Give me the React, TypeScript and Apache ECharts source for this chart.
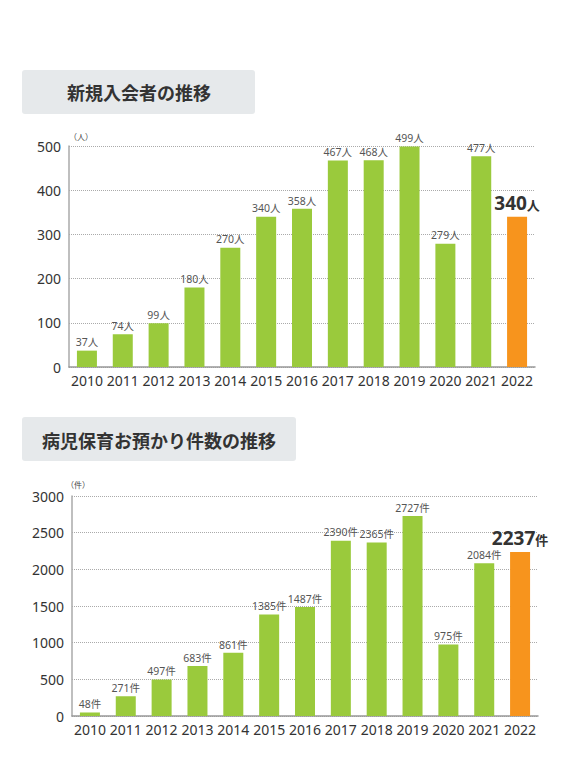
import React, { useEffect, useRef } from "react";
import * as echarts from "echarts";

const years = ["2010", "2011", "2012", "2013", "2014", "2015", "2016", "2017", "2018", "2019", "2020", "2021", "2022"];
const members = [37, 74, 99, 180, 270, 340, 358, 467, 468, 499, 279, 477, 340];
const cases = [48, 271, 497, 683, 861, 1385, 1487, 2390, 2365, 2727, 975, 2084, 2237];
const title1 = "新規入会者の推移";
const title2 = "病児保育お預かり件数の推移";

const GREEN = "#9ACA3C";
const ORANGE = "#F7941D";
const FONT = "'Noto Sans', 'Noto Sans CJK JP', sans-serif";

function buildData(values: number[], unit: string) {
  return values.map((v, i) => {
    if (i === values.length - 1) {
      return {
        value: v,
        itemStyle: { color: ORANGE },
        label: {
          formatter: `{a|${v}}{b|${unit}}`,
          distance: 4,
          rich: {
            a: { fontSize: 19, fontWeight: "bold", color: "#333", fontFamily: FONT },
            b: { fontSize: 13, fontWeight: "bold", color: "#333", fontFamily: FONT, padding: [4, 0, 0, 0] },
          },
        },
      };
    }
    return { value: v, itemStyle: { color: GREEN } };
  });
}

export default function App() {
  const ref = useRef<HTMLDivElement>(null);
  useEffect(() => {
    if (!ref.current) return;
    const chart = echarts.init(ref.current, null, { renderer: "svg" });
    const axisCommon = {
      type: "category" as const,
      data: years,
      axisLine: { lineStyle: { color: "#999", width: 1.5 } },
      axisTick: { show: false },
      axisLabel: { fontSize: 14, color: "#333", margin: 6, fontFamily: FONT, interval: 0 },
    };
    const yCommon = {
      type: "value" as const,
      min: 0,
      axisLine: { show: true, lineStyle: { color: "#aaa", width: 1.5 } },
      axisTick: { show: false },
      axisLabel: { fontSize: 14, color: "#333", margin: 8, fontFamily: FONT, formatter: (v: number) => String(v) },
      splitLine: { lineStyle: { color: "#aaa", type: "dotted" as const } },
    };
    const labelCommon = {
      show: true,
      position: "top" as const,
      distance: 3,
      fontSize: 10.5,
      color: "#555",
      fontFamily: FONT,
    };
    chart.setOption({
      animation: false,
      grid: [
        { left: 69, top: 146, width: 466, height: 221 },
        { left: 72, top: 496, width: 466, height: 220 },
      ],
      xAxis: [
        { ...axisCommon, gridIndex: 0 },
        { ...axisCommon, gridIndex: 1 },
      ],
      yAxis: [
        { ...yCommon, gridIndex: 0, max: 500, interval: 100 },
        { ...yCommon, gridIndex: 1, max: 3000, interval: 500 },
      ],
      series: [
        {
          type: "bar",
          xAxisIndex: 0,
          yAxisIndex: 0,
          barWidth: 20,
          data: buildData(members, "人"),
          label: { ...labelCommon, formatter: "{c}人" },
        },
        {
          type: "bar",
          xAxisIndex: 1,
          yAxisIndex: 1,
          barWidth: 20,
          data: buildData(cases, "件"),
          label: { ...labelCommon, formatter: "{c}件" },
        },
      ],
      graphic: [
        { type: "rect", shape: { x: 22, y: 70, width: 233, height: 44, r: 3 }, style: { fill: "#E6E9EB" } },
        {
          type: "text",
          x: 139,
          y: 93,
          style: { text: title1, fontSize: 18, fontWeight: "bold", fill: "#333", align: "center", verticalAlign: "middle", fontFamily: FONT },
        },
        { type: "rect", shape: { x: 22, y: 417, width: 274, height: 44, r: 3 }, style: { fill: "#E6E9EB" } },
        {
          type: "text",
          x: 159,
          y: 441,
          style: { text: title2, fontSize: 18, fontWeight: "bold", fill: "#333", align: "center", verticalAlign: "middle", fontFamily: FONT },
        },
        {
          type: "text",
          x: 69,
          y: 136,
          style: { text: "（人）", fontSize: 8, fill: "#444", align: "left", verticalAlign: "middle", fontFamily: FONT },
        },
        {
          type: "text",
          x: 66,
          y: 484,
          style: { text: "（件）", fontSize: 8, fill: "#444", align: "left", verticalAlign: "middle", fontFamily: FONT },
        },
      ],
    });
    return () => chart.dispose();
  }, []);
  return (
    <div
      ref={ref}
      style={{ position: "fixed", left: 0, top: 0, width: 582, height: 778, background: "#fff" }}
    />
  );
}
